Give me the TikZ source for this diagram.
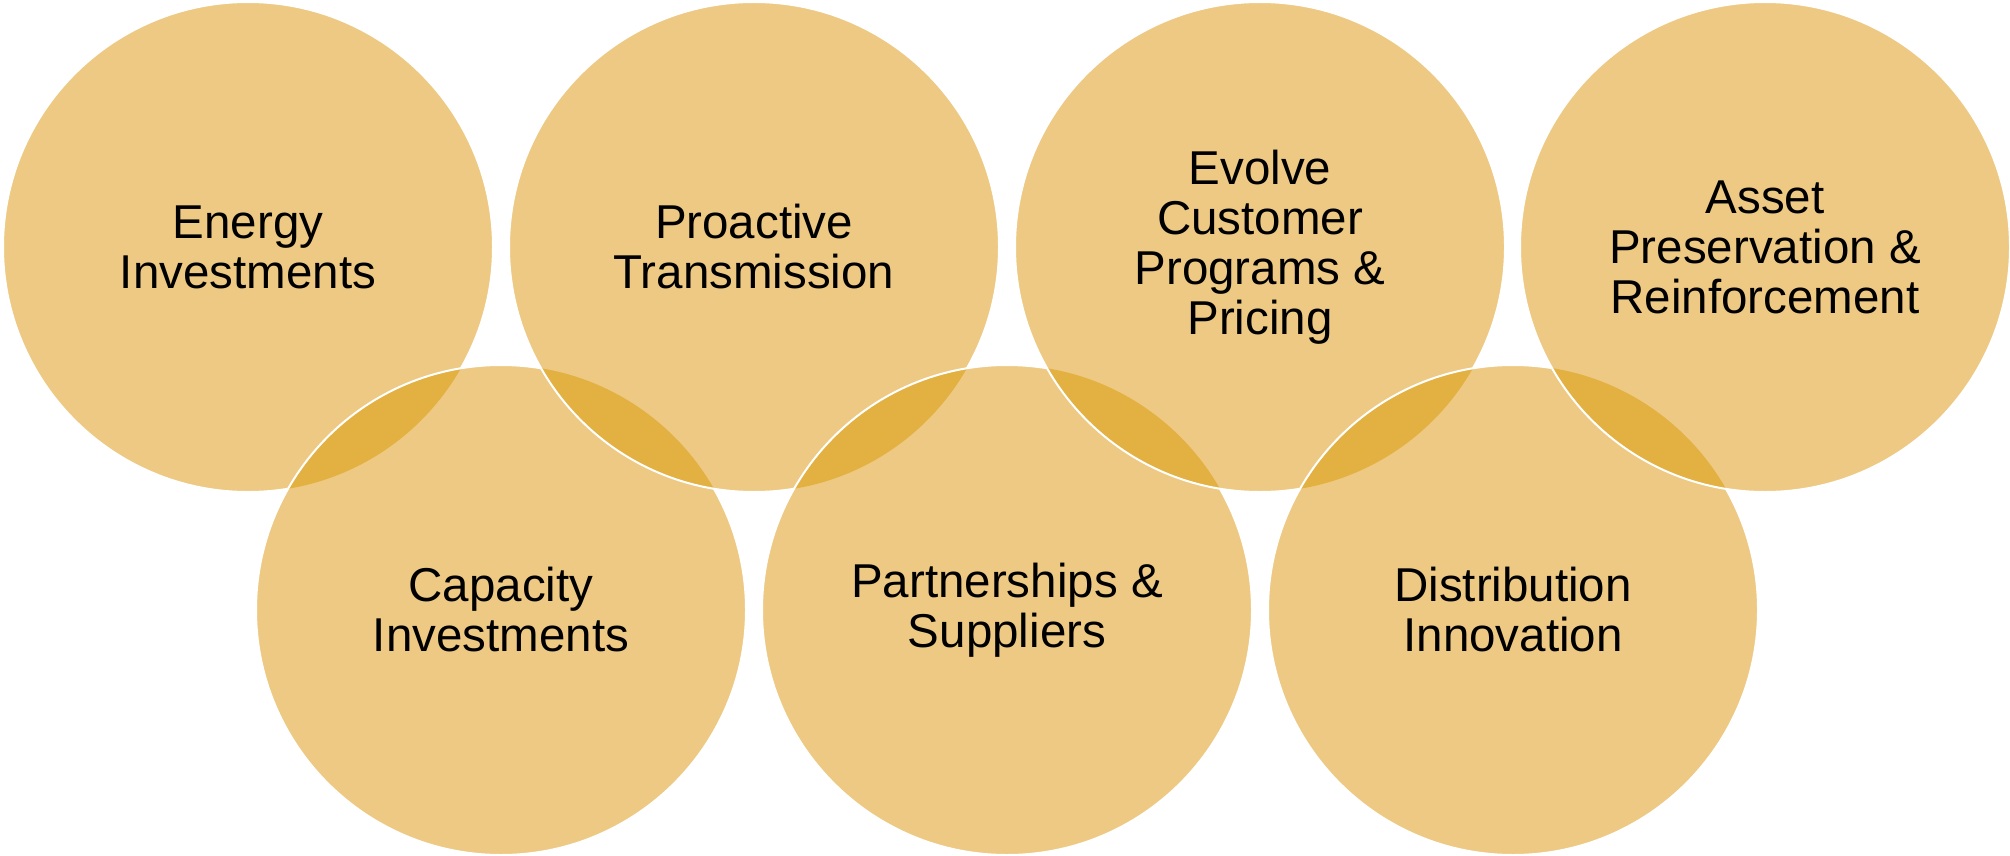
\documentclass[tikz,border=0pt]{standalone}
\usepackage{fontspec}
\setmainfont{Liberation Sans}
\definecolor{bubfill}{HTML}{EDC983}
\definecolor{lensfill}{HTML}{E3B042}
\begin{document}
\begin{tikzpicture}[x=1pt,y=-1pt,
  lbl/.style={align=center,text=black,font=\fontsize{47.5}{50}\selectfont,inner sep=0pt},
  rim/.style={draw=white,line width=2pt}]
\useasboundingbox (0,0) rectangle (2010,856);
\def\R{245}
\coordinate (c1) at (248,247);
\coordinate (b1) at (501,610);
\coordinate (c2) at (754,247);
\coordinate (b2) at (1007,610);
\coordinate (c3) at (1260,247);
\coordinate (b3) at (1513,610);
\coordinate (c4) at (1765,247);
% first circle
\fill[bubfill] (c1) circle (\R);
\draw[rim] (c1) circle (\R);
% remaining circles, each over the previous one
\foreach \cur/\prev in {b1/c1,c2/b1,b2/c2,c3/b2,b3/c3,c4/b3}{
  \fill[bubfill] (\cur) circle (\R);
  \begin{scope}
    \clip (\prev) circle (\R);
    \fill[lensfill] (\cur) circle (\R);
  \end{scope}
  \draw[rim] (\cur) circle (\R);
}
\node[lbl] (t1) at (c1) {Energy\\Investments};
\node[lbl] (t2) at (c2) {Proactive\\Transmission};
\node[lbl] (t3) at (c3) {Evolve\\Customer\\Programs \&\\Pricing};
\node[lbl] (t4) at (c4) {Asset\\Preservation \&\\Reinforcement};
\node[lbl] (t5) at (b1) {Capacity\\Investments};
\node[lbl] (t6) at (b2) {Partnerships \&\\Suppliers};
\node[lbl] (t7) at (b3) {Distribution\\Innovation};
\end{tikzpicture}
\end{document}
